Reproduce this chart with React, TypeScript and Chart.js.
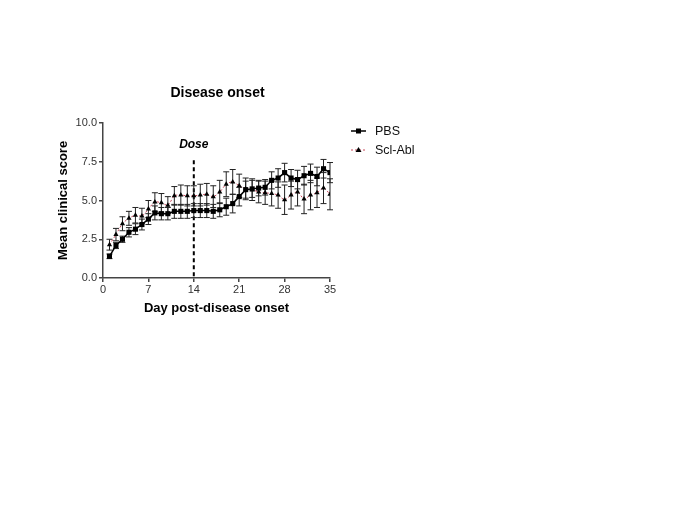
import React, { useEffect, useRef } from "react";
import { Chart, registerables } from "chart.js";

Chart.register(...registerables);

const days = Array.from({ length: 35 }, (_, i) => i + 1);
const pbsMean = [1.4, 2.1, 2.5, 2.95, 3.15, 3.45, 3.8, 4.2, 4.15, 4.15, 4.3, 4.3, 4.3, 4.35, 4.35, 4.35, 4.3, 4.4, 4.6, 4.8, 5.25, 5.7, 5.75, 5.8, 5.85, 6.3, 6.45, 6.8, 6.45, 6.35, 6.6, 6.75, 6.55, 7.05, 6.8];
const pbsErr = [0.15, 0.2, 0.2, 0.3, 0.35, 0.35, 0.35, 0.45, 0.4, 0.4, 0.45, 0.45, 0.45, 0.45, 0.45, 0.45, 0.45, 0.45, 0.55, 0.6, 0.6, 0.55, 0.55, 0.5, 0.5, 0.55, 0.6, 0.6, 0.55, 0.6, 0.6, 0.6, 0.6, 0.6, 0.65];
const sclMean = [2.15, 2.8, 3.5, 3.85, 4.05, 4.0, 4.45, 4.9, 4.85, 4.7, 5.3, 5.35, 5.3, 5.3, 5.35, 5.4, 5.25, 5.55, 6.05, 6.2, 5.95, 5.75, 5.7, 5.55, 5.5, 5.45, 5.35, 5.05, 5.35, 5.55, 5.1, 5.35, 5.5, 5.8, 5.4];
const sclErr = [0.35, 0.4, 0.45, 0.45, 0.5, 0.5, 0.55, 0.6, 0.6, 0.55, 0.6, 0.65, 0.65, 0.65, 0.7, 0.7, 0.7, 0.75, 0.8, 0.8, 0.75, 0.7, 0.7, 0.7, 0.75, 0.8, 0.85, 0.95, 0.9, 0.9, 0.95, 0.95, 0.95, 1.0, 1.0];
const xTicks = [0, 7, 14, 21, 28, 35];
const yTicks = [0, 2.5, 5, 7.5, 10];
const doseDay = 14;
const chartTitle = "Disease onset";
const doseLabel = "Dose";
const seriesNames = ["PBS", "Scl-Abl"];

const FONT = "Arial, 'Liberation Sans', sans-serif";

const overlayPlugin = {
  id: "overlay",
  beforeDatasetsDraw(chart: any) {
    const { ctx, scales } = chart;
    const x = scales.x, y = scales.y;
    ctx.save();
    const dx = x.getPixelForValue(doseDay);
    ctx.strokeStyle = "#000";
    ctx.lineWidth = 2;
    ctx.setLineDash([4, 3]);
    ctx.beginPath();
    ctx.moveTo(dx, y.getPixelForValue(7.6));
    ctx.lineTo(dx, y.getPixelForValue(0));
    ctx.stroke();
    ctx.setLineDash([]);
    const drawErr = (means: number[], errs: number[]) => {
      ctx.strokeStyle = "#222";
      ctx.lineWidth = 1;
      means.forEach((m, i) => {
        const px = x.getPixelForValue(days[i]);
        const top = y.getPixelForValue(m + errs[i]);
        const bot = y.getPixelForValue(m - errs[i]);
        ctx.beginPath();
        ctx.moveTo(px, top);
        ctx.lineTo(px, bot);
        ctx.moveTo(px - 3, top);
        ctx.lineTo(px + 3, top);
        ctx.moveTo(px - 3, bot);
        ctx.lineTo(px + 3, bot);
        ctx.stroke();
      });
    };
    drawErr(sclMean, sclErr);
    drawErr(pbsMean, pbsErr);
    ctx.restore();
  },
  afterDraw(chart: any) {
    const { ctx, scales, chartArea } = chart;
    const x = scales.x, y = scales.y;
    ctx.save();
    ctx.fillStyle = "#000";
    ctx.textAlign = "center";
    ctx.textBaseline = "middle";
    ctx.font = `bold 14px ${FONT}`;
    ctx.fillText(chartTitle, (chartArea.left + chartArea.right) / 2 + 1, 85);
    ctx.font = `italic bold 12px ${FONT}`;
    ctx.fillText(doseLabel, x.getPixelForValue(doseDay), y.getPixelForValue(8.6));
    const lx = 343;
    const ly1 = 123, ly2 = 142;
    ctx.strokeStyle = "#000";
    ctx.lineWidth = 1.5;
    ctx.beginPath();
    ctx.moveTo(lx, ly1);
    ctx.lineTo(lx + 15, ly1);
    ctx.stroke();
    ctx.fillRect(lx + 5, ly1 - 2.5, 5, 5);
    ctx.strokeStyle = "#c8485a";
    ctx.lineWidth = 1;
    ctx.setLineDash([2, 2]);
    ctx.beginPath();
    ctx.moveTo(lx, ly2);
    ctx.lineTo(lx + 15, ly2);
    ctx.stroke();
    ctx.setLineDash([]);
    ctx.beginPath();
    ctx.moveTo(lx + 7.5, ly2 - 3);
    ctx.lineTo(lx + 10.5, ly2 + 2);
    ctx.lineTo(lx + 4.5, ly2 + 2);
    ctx.closePath();
    ctx.fill();
    ctx.font = `12.5px ${FONT}`;
    ctx.textAlign = "left";
    ctx.fillStyle = "#111";
    ctx.fillText(seriesNames[0], lx + 24, ly1 + 1);
    ctx.fillText(seriesNames[1], lx + 24, ly2 + 1);
    ctx.restore();
  },
};

export default function App() {
  const ref = useRef<HTMLCanvasElement | null>(null);
  useEffect(() => {
    if (!ref.current) return;
    const chart = new Chart(ref.current, {
      type: "line",
      data: {
        datasets: [
          {
            label: seriesNames[0],
            data: days.map((d, i) => ({ x: d, y: pbsMean[i] })),
            borderColor: "#000",
            backgroundColor: "#000",
            borderWidth: 1.5,
            pointStyle: "rect",
            pointRadius: 3.6,
            pointBackgroundColor: "#000",
            pointBorderColor: "#000",
            pointBorderWidth: 0,
            tension: 0,
          },
          {
            label: seriesNames[1],
            data: days.map((d, i) => ({ x: d, y: sclMean[i] })),
            borderColor: "#c8485a",
            backgroundColor: "#000",
            borderWidth: 1,
            borderDash: [2, 2],
            pointStyle: "triangle",
            pointRadius: 3,
            pointBackgroundColor: "#000",
            pointBorderColor: "#000",
            pointBorderWidth: 0,
            tension: 0.3,
          },
        ],
      },
      options: {
        animation: false,
        responsive: false,
        devicePixelRatio: 1,
        layout: { padding: { left: 40, right: 347, top: 115, bottom: 189 } },
        plugins: { legend: { display: false }, title: { display: false }, tooltip: { enabled: false } },
        scales: {
          x: {
            type: "linear",
            min: 0,
            max: 35,
            afterBuildTicks: (s: any) => { s.ticks = xTicks.map((v) => ({ value: v })); },
            afterFit: (s: any) => { s.height = 38; },
            ticks: { color: "#333", font: { family: FONT, size: 11 }, padding: 1, maxRotation: 0, autoSkip: false },
            grid: { drawOnChartArea: false, drawTicks: true, tickLength: 4, color: "#444", lineWidth: 1.5 },
            border: { display: true, color: "#444", width: 1.5 },
            title: { display: true, text: "Day post-disease onset", color: "#000", font: { family: FONT, size: 13, weight: "bold" }, padding: { top: 2, bottom: 0 } },
          },
          y: {
            type: "linear",
            min: 0,
            max: 10,
            afterBuildTicks: (s: any) => { s.ticks = yTicks.map((v) => ({ value: v })); },
            afterFit: (s: any) => { s.width = 55; },
            ticks: { color: "#333", font: { family: FONT, size: 11 }, padding: 2, callback: (v: any) => Number(v).toFixed(1) },
            grid: { drawOnChartArea: false, drawTicks: true, tickLength: 4, color: "#444", lineWidth: 1.5 },
            border: { display: true, color: "#444", width: 1.5 },
            title: { display: true, text: "Mean clinical score", color: "#000", font: { family: FONT, size: 13, weight: "bold" }, padding: { top: 8, bottom: 0 } },
          },
        },
      },
      plugins: [overlayPlugin],
    });
    return () => chart.destroy();
  }, []);
  return (
    <div style={{ width: 669, height: 497 }}>
      <canvas ref={ref} width={669} height={497} style={{ width: 669, height: 497 }} />
    </div>
  );
}
